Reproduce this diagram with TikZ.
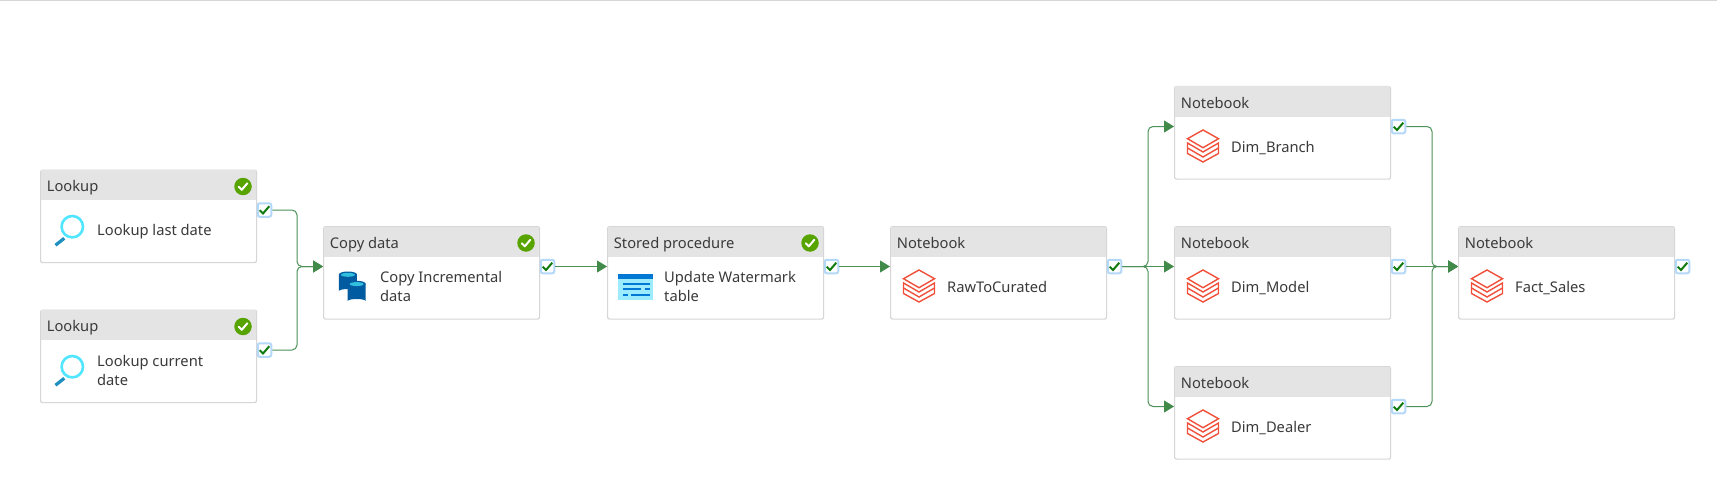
\documentclass[tikz,border=0pt]{standalone}
\usepackage{fontspec}
\setmainfont{Noto Sans}
\usetikzlibrary{arrows.meta,calc}
\definecolor{linegreen}{HTML}{4C9158}
\definecolor{tipgreen}{HTML}{418A4A}
\definecolor{okgreen}{HTML}{57A300}
\definecolor{chkgreen}{HTML}{107C10}
\definecolor{headgrey}{HTML}{E4E4E4}
\definecolor{edgegrey}{HTML}{D6D6D6}
\definecolor{inktext}{HTML}{3A3A3A}
\definecolor{dbred}{HTML}{F0503A}
\definecolor{ringcyan}{HTML}{50E6FF}
\definecolor{handleblue}{HTML}{1F8FBF}
\definecolor{cyldark}{HTML}{005BA1}
\definecolor{cyltop}{HTML}{32BEDD}
\definecolor{tabpale}{HTML}{9CEBFF}
\definecolor{tabblue}{HTML}{0078D4}
\definecolor{glowblue}{HTML}{B4D8F8}
\tikzset{
  box/.style={draw=edgegrey,line width=1.2pt,fill=white,rounded corners=2pt,
    minimum width=216pt,minimum height=92.5pt,inner sep=0pt,anchor=north west},
  head/.style={fill=headgrey,minimum width=215.5pt,minimum height=30pt,inner sep=0pt,anchor=north west},
  titletext/.style={font=\fontsize{14.7}{19}\selectfont,text=inktext,inner sep=0pt,anchor=west},
  labeltext/.style={font=\fontsize{14.7}{19}\selectfont,text=inktext,inner sep=0pt,anchor=west,align=left},
  outbox/.style={draw=glowblue,line width=2pt,fill=white,rounded corners=2pt,minimum size=13.5pt,inner sep=0pt},
  statusdot/.style={circle,fill=okgreen,minimum size=17.5pt,inner sep=0pt},
  conn/.style={draw=linegreen,line width=1pt,-{Triangle[length=10pt,width=12pt,color=tipgreen]}},
  chk/.style={line width=2pt},
}
\newcommand{\iconlookup}{%
  \draw[ringcyan,line width=2.6pt] (32.3,57.2) circle (10.7);
  \draw[handleblue,line width=3.2pt] (24.3,68.8) -- (15.5,75.7);
}
\newcommand{\iconcopy}{%
  \foreach \cx/\ty/\by in {24.9/46/67,33.7/55.3/77}{%
    \fill[cyldark] (\cx-9,\ty+2.5) -- (\cx-9,\by-2) arc[start angle=180,end angle=360,x radius=9,y radius=2] -- (\cx+9,\ty+2.5) -- cycle;
    \fill[cyldark] (\cx,\ty+2.5) ellipse[x radius=9,y radius=3];
    \fill[cyltop] (\cx,\ty+2.8) ellipse[x radius=7,y radius=2];
  }%
}
\newcommand{\icontable}{%
  \fill[tabpale] (11,48) rectangle (45.7,74);
  \fill[tabblue] (11,48) rectangle (45.7,53);
  \draw[tabblue,line width=1.6pt]
    (15.7,58) -- (43,58)
    (15.7,63) -- (34.3,63) (37.7,63) -- (43,63)
    (15.7,69) -- (21.3,69) (24,69) -- (43,69);
}
\newcommand{\iconbricks}{%
  \begin{scope}[shift={(29,44)},draw=dbred,line width=1.4pt,line join=miter]
    \draw (0,0) -- (15.5,8.7) -- (0,17.7) -- (-15.5,8.7) -- cycle;
    \draw (-15.5,13) -- (0,22) -- (15.5,13) -- (15.5,23.5) -- (0,32) -- (-15.5,23.5) -- cycle;
    \draw (-15.5,18) -- (0,27) -- (15.5,18);
  \end{scope}%
}
% name, x, y, title, label, icon, status(1/0)
\newcommand{\activity}[7]{%
  \node[box] (#1) at (#2,#3) {};
  \node[head] (#1-head) at (#2+0.3,#3+0.3) {};
  \node[titletext] (#1-title) at (#2+6.7,#3+18.2) {\strut #4};
  \node[labeltext] (#1-text) at (#2+57,#3+62.5) {\strut #5\strut};
  \begin{scope}[shift={(#2,#3)}]#6\end{scope}
  \ifnum#7=1
    \node[statusdot] (#1-status) at (#2+203,#3+17) {};
    \draw[white,chk,line cap=round,line join=round] (#2+198.7,#3+17.3) -- (#2+201.8,#3+20.3) -- (#2+207.3,#3+13.8);
  \fi
  \node[outbox] (#1-out) at (#2+224.5,#3+40.5) {};
  \draw[chkgreen,chk] (#2+219.7,#3+40.7) -- (#2+223,#3+44) -- (#2+229.3,#3+36.7);
  \coordinate (#1-in) at (#2,#3+40.5);
}
\begin{document}
\begin{tikzpicture}[x=1pt,y=-1pt]
  \useasboundingbox (0,0) rectangle (1717,495);
  \fill[white] (0,0) rectangle (1717,495);
  \draw[edgegrey,line width=1pt] (0,0.5) -- (1717,0.5);

  \activity{lookA}{40}{169.5}{Lookup}{Lookup last date}{\iconlookup}{1}
  \activity{lookB}{40}{309.5}{Lookup}{Lookup current\\date}{\iconlookup}{1}
  \activity{copy}{323}{226}{Copy data}{Copy Incremental\\data}{\iconcopy}{1}
  \activity{proc}{607}{226}{Stored procedure}{Update Watermark\\table}{\icontable}{1}
  \activity{raw}{890}{226}{Notebook}{RawToCurated}{\iconbricks}{0}
  \activity{branch}{1174}{86}{Notebook}{Dim\_Branch}{\iconbricks}{0}
  \activity{model}{1174}{226}{Notebook}{Dim\_Model}{\iconbricks}{0}
  \activity{dealer}{1174}{366}{Notebook}{Dim\_Dealer}{\iconbricks}{0}
  \activity{fact}{1458}{226}{Notebook}{Fact\_Sales}{\iconbricks}{0}

  \coordinate (joinA) at (297,266.5);
  \coordinate (forkB) at (1148,266.5);
  \coordinate (joinC) at (1432,266.5);

  \draw[conn] (lookA-out.east) [rounded corners=5pt] -| (joinA) -- (copy-in);
  \draw[conn] (lookB-out.east) [rounded corners=5pt] -| (joinA) -- (copy-in);
  \draw[conn] (copy-out.east) -- (proc-in);
  \draw[conn] (proc-out.east) -- (raw-in);
  \draw[conn] (raw-out.east) -- (model-in);
  \draw[conn] (raw-out.east) [rounded corners=5pt] -- (forkB) |- (branch-in);
  \draw[conn] (raw-out.east) [rounded corners=5pt] -- (forkB) |- (dealer-in);
  \draw[conn] (branch-out.east) [rounded corners=5pt] -| (joinC) -- (fact-in);
  \draw[conn] (model-out.east) -- (fact-in);
  \draw[conn] (dealer-out.east) [rounded corners=5pt] -| (joinC) -- (fact-in);
\end{tikzpicture}
\end{document}
